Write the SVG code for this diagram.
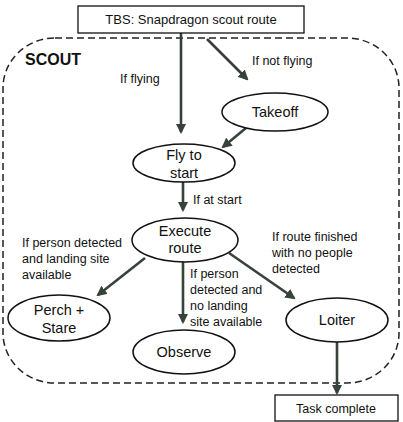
<svg xmlns="http://www.w3.org/2000/svg" width="403" height="422" viewBox="0 0 403 422">
<style>
text{font-family:"Liberation Sans",Arial,sans-serif;fill:#111}
.lbl{font-size:12.5px}
.nt{font-size:14.5px;text-anchor:middle}
.box{fill:#fff;stroke:#111;stroke-width:1.3}
.ell{fill:#fff;stroke:#111;stroke-width:1.5}
.arr{stroke:#37433a;stroke-width:2.6;fill:none;marker-end:url(#ah)}
</style>
<defs>
<marker id="ah" viewBox="0 0 10 10" refX="8" refY="5" markerWidth="4" markerHeight="4" orient="auto" markerUnits="strokeWidth">
<path d="M0,0L10,5L0,10z" fill="#37433a"/>
</marker>
</defs>
<rect width="403" height="422" fill="#fff"/>
<g id="scout">
<rect x="3" y="38" width="396" height="345" rx="52" ry="50" fill="none" stroke="#222" stroke-width="1.5" stroke-dasharray="7,4"/>
<text x="25" y="65" style="font-size:16px;font-weight:bold">SCOUT</text>
</g>
<g id="connectors">
<line class="arr" x1="181" y1="33" x2="181" y2="132"/>
<line class="arr" x1="207" y1="39" x2="247" y2="79"/>
<line class="arr" x1="246" y1="128" x2="223" y2="147"/>
<line class="arr" x1="183" y1="182" x2="183" y2="210"/>
<line class="arr" x1="145" y1="258" x2="98" y2="295"/>
<line class="arr" x1="183" y1="262" x2="183" y2="322"/>
<line class="arr" x1="229" y1="253" x2="294" y2="298"/>
<line class="arr" x1="337" y1="342" x2="337" y2="393"/>
<text class="lbl" x="120" y="83">If flying</text>
<text class="lbl" x="252" y="65">If not flying</text>
<text class="lbl" x="193" y="204">If at start</text>
<text class="lbl" x="22" y="247">If person detected</text>
<text class="lbl" x="22" y="263">and landing site</text>
<text class="lbl" x="22" y="279">available</text>
<text class="lbl" x="272" y="241">If route finished</text>
<text class="lbl" x="272" y="257">with no people</text>
<text class="lbl" x="272" y="273">detected</text>
<text class="lbl" x="190" y="278">If person</text>
<text class="lbl" x="190" y="294">detected and</text>
<text class="lbl" x="190" y="310">no landing</text>
<text class="lbl" x="190" y="326">site available</text>
</g>
<g id="tbs">
<rect class="box" x="78" y="6" width="226" height="27"/>
<text x="191" y="24" style="font-size:13px;text-anchor:middle">TBS: Snapdragon scout route</text>
</g>
<g id="takeoff">
<ellipse class="ell" cx="275" cy="112" rx="53" ry="19"/>
<text class="nt" x="275" y="117">Takeoff</text>
</g>
<g id="flytostart">
<ellipse class="ell" cx="184" cy="163" rx="51" ry="19"/>
<text class="nt" x="184" y="160">Fly to</text>
<text class="nt" x="184" y="178">start</text>
</g>
<g id="execute">
<ellipse class="ell" cx="185" cy="240" rx="53" ry="22"/>
<text class="nt" x="185" y="236">Execute</text>
<text class="nt" x="185" y="253">route</text>
</g>
<g id="perch">
<ellipse class="ell" cx="59" cy="318" rx="51" ry="23"/>
<text class="nt" x="59" y="315">Perch +</text>
<text class="nt" x="59" y="333">Stare</text>
</g>
<g id="observe">
<ellipse class="ell" cx="184" cy="352" rx="51" ry="22"/>
<text class="nt" x="184" y="357">Observe</text>
</g>
<g id="loiter">
<ellipse class="ell" cx="337" cy="320" rx="51" ry="22"/>
<text class="nt" x="337" y="325">Loiter</text>
</g>
<g id="taskcomplete">
<rect class="box" x="275" y="395" width="123" height="26"/>
<text x="336" y="413" style="font-size:12.5px;text-anchor:middle">Task complete</text>
</g>
</svg>
